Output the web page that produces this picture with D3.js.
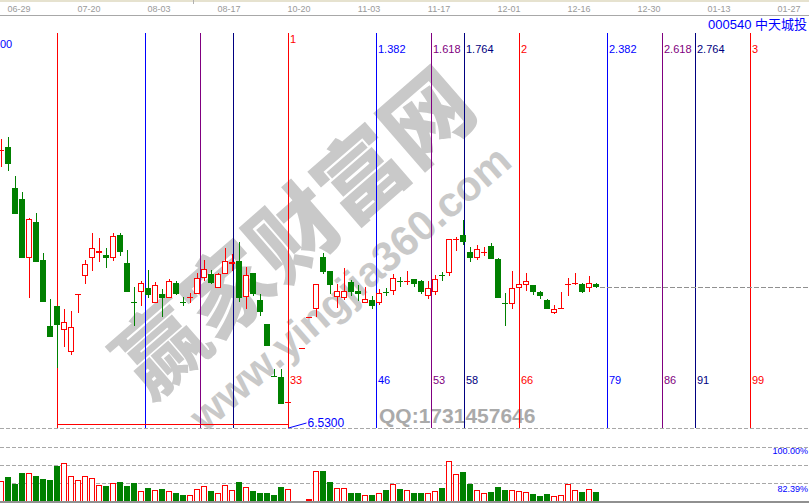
<!DOCTYPE html>
<html><head><meta charset="utf-8">
<script src="https://cdn.jsdelivr.net/npm/d3@7"></script>
<style>
html,body{margin:0;padding:0;background:#fff;overflow:hidden}
text{font-family:"Liberation Sans",Arial,sans-serif}
</style>
</head><body>
<svg id="chart" width="809" height="503"></svg>
<script>
// Daily bars; bar 0 is the swing high that anchors the Fibonacci time zones.
const barIndex = d3.range(-8, 78);
const open = [12.07,12.15,11.33,11.11,9.92,10.65,9.89,8.57,
  8.97,8.50,8.06,9.21,9.57,9.94,10.03,10.00,9.94,10.38,9.83,9.06,9.26,9.33,9.04,9.21,9.14,9.43,9.06,9.14,
  9.21,9.54,9.61,9.34,9.62,9.82,9.87,9.16,9.63,9.09,8.61,7.57,7.56,7.06,null,8.13,8.75,8.92,9.95,9.68,
  9.16,9.13,9.45,9.27,9.04,9.10,9.03,9.25,9.28,9.47,9.46,9.51,9.47,9.18,9.26,9.60,9.64,10.30,10.38,10.05,
  9.94,10.05,10.17,9.91,9.04,9.02,9.34,9.38,9.38,9.25,9.09,8.84,8.94,9.42,9.44,9.41,9.32,9.42];
const high = [12.31,12.36,11.57,11.25,10.73,10.83,10.03,9.11,
  8.97,8.92,8.87,9.22,9.90,10.43,10.32,10.14,10.44,10.44,10.10,9.36,9.46,9.69,9.45,9.31,9.52,9.48,9.16,9.24,
  9.64,9.90,9.70,9.63,10.13,10.01,10.24,9.75,9.63,9.21,8.61,7.71,7.71,7.06,null,8.13,8.75,9.42,10.04,9.68,
  9.40,9.72,9.50,9.39,9.36,9.18,9.30,9.33,9.62,9.55,9.68,9.51,9.49,9.46,9.60,9.66,10.30,10.36,10.69,10.16,
  10.20,10.16,10.22,9.94,9.23,9.68,9.42,9.63,9.38,9.28,9.12,9.00,9.25,9.54,9.64,9.44,9.57,9.44];
const low = [11.74,11.68,10.82,9.94,9.14,9.86,9.06,8.36,
  7.73,8.14,8.00,8.84,9.40,9.68,9.86,9.74,9.88,9.96,9.26,8.57,8.96,9.14,9.04,8.76,9.13,9.19,8.96,9.04,
  9.21,9.48,9.40,9.34,9.62,9.68,9.06,8.92,9.18,8.78,8.18,7.56,7.02,7.06,null,8.13,8.75,8.76,9.61,9.22,
  8.94,9.10,9.18,9.07,9.04,8.91,9.00,9.17,9.20,9.35,9.38,9.36,9.21,9.11,9.20,9.48,9.56,10.08,10.20,9.85,
  9.90,9.96,9.91,9.14,8.57,8.92,9.34,9.28,9.20,9.12,8.90,8.80,8.93,9.18,9.38,9.24,9.26,9.32];
const close = [12.08,11.80,10.82,9.94,10.71,9.86,9.06,8.36,
  8.59,8.64,8.56,9.22,9.82,10.14,10.07,9.94,10.37,10.06,9.26,9.05,9.44,9.20,9.39,9.14,9.46,9.22,9.05,9.15,
  9.54,9.71,9.43,9.61,9.88,9.86,9.14,9.60,9.22,8.86,8.18,7.56,7.02,7.06,null,8.13,8.75,9.42,9.66,9.38,
  9.28,9.28,9.26,9.22,9.11,8.98,9.24,9.24,9.54,9.46,9.47,9.42,9.26,9.34,9.52,9.56,10.30,10.31,10.26,9.92,
  10.11,10.06,9.91,9.14,9.03,9.34,9.42,9.46,9.25,9.18,8.90,8.90,8.94,9.42,9.44,9.26,9.44,9.36];
// volume, 万手
const volume = [40,48,34,56,56,50,44,42,
  70.6,75.4,49.4,41.4,49.4,45.4,31.4,30,35.4,38,30,36,19.4,26,21.4,24,19.4,16,12,11.4,
  23.4,29.4,20,15.4,31.4,21.4,38,27.4,20,16,16,12,28,23.4,null,0,4,59.4,60,38,
  25.4,25.4,16,16,11.4,12,15.4,22,33.4,24,22,16,16,16,20,26,80,54,58,34,
  22,16,18,28,22,22,20,18,14,10,14,10,12,34,22,18,24,18];

// Fibonacci time-zone ratios measured over the 33-bar base swing
const fibRatios = [0, 0.382, 0.618, 0.764, 1, 1.382, 1.618, 1.764, 2, 2.382, 2.618, 2.764, 3];
const fibBase = 33;
const fibLow = 6.53;

const dateLabels = ["06-29","07-20","08-03","08-17","10-20","11-03","11-17","12-01","12-16","12-30","01-13","01-27"];
const dateBars = [-8, 2, 12, 22, 32, 42, 52, 62, 72, 82, 92, 102];

const stockCode = "000540";
const stockName = "中天城投";
const volLabels = ["100.00%", "82.39%"];

const RED = "#ff0000", GREEN = "#008000", BLUE = "#0000ff", PURPLE = "#800080", NAVY = "#000080";

const svg = d3.select("#chart");
const W = 809, H = 503;

const x = d3.scaleLinear().domain([-8, 77]).range([1, 596]);
const y = d3.scaleLinear().domain([6.53, 14.43]).range([428, 33]);
const yv = d3.scaleLinear().domain([0, 108]).range([501, 447]);

// header strip
svg.append("rect").attr("x", 0).attr("y", 0).attr("width", W).attr("height", 2).attr("fill", "#e6e2cf");
svg.append("rect").attr("x", 193).attr("y", 0).attr("width", 1).attr("height", 4).attr("fill", "#b0b0b0");
svg.append("rect").attr("x", 0).attr("y", 15).attr("width", W).attr("height", 1).attr("fill", "#a8a8a8");
svg.append("g").selectAll("text").data(dateLabels).join("text")
  .attr("x", (d, i) => x(dateBars[i]) + 18).attr("y", 12)
  .attr("text-anchor", "middle").attr("font-size", 9).attr("fill", "#9a9a9a")
  .text(d => d);

svg.append("text").attr("x", 807).attr("y", 29).attr("text-anchor", "end")
  .attr("font-size", 13).attr("fill", BLUE)
  .style("font-family", "'Liberation Sans','Noto Sans CJK SC',sans-serif")
  .text(stockCode + " " + stockName);
svg.append("text").attr("x", 0).attr("y", 48)
  .attr("font-size", 11).attr("fill", BLUE).text("00");

// watermark
const wm = svg.append("g").attr("fill", "#c9c9c9");
wm.append("text").attr("transform", "translate(290,228) rotate(-41)")
  .attr("text-anchor", "middle").attr("dominant-baseline", "central")
  .attr("font-size", 88).attr("font-weight", 900)
  .style("font-family", "'Noto Sans CJK SC',sans-serif")
  .text("赢家财富网");
wm.append("text").attr("transform", "translate(350,288) rotate(-41)")
  .attr("text-anchor", "middle").attr("dominant-baseline", "central")
  .attr("font-size", 42).attr("font-weight", "bold")
  .text("www.yingjia360.com");
svg.append("text").attr("x", 379).attr("y", 423).attr("font-size", 21).attr("font-weight", "bold")
  .attr("fill", "#aaaaaa").text("QQ:1731457646");

// pane separators
const dash = (yy, x0, x1) => svg.append("line").attr("x1", x0).attr("x2", x1)
  .attr("y1", yy + 0.5).attr("y2", yy + 0.5).attr("stroke", "#a8a8a8")
  .attr("stroke-dasharray", "4,2").attr("shape-rendering", "crispEdges");
dash(428, 0, W);
[108, 72, 36].forEach(v => dash(Math.round(yv(v)), 0, W));

// Fibonacci time zones
const fibColor = r => {
  const f = Math.round((r % 1) * 1000);
  return f === 0 ? RED : f === 382 ? BLUE : f === 618 ? PURPLE : NAVY;
};
const fibX = r => Math.round(x(r * fibBase)) + 0.5;
const fg = svg.append("g");
fg.selectAll("line").data(fibRatios).join("line")
  .attr("x1", fibX).attr("x2", fibX).attr("y1", 33).attr("y2", 428)
  .attr("stroke", fibColor).attr("shape-rendering", "crispEdges");
fg.selectAll("text.top").data(fibRatios.filter(r => r >= 1)).join("text")
  .attr("class", "top")
  .attr("x", r => fibX(r) + 1.5).attr("y", r => r === 1 ? 43 : 53)
  .attr("font-size", 11).attr("fill", fibColor).text(r => String(r));
fg.selectAll("text.bot").data(fibRatios.filter(r => r >= 1)).join("text")
  .attr("class", "bot")
  .attr("x", r => fibX(r) + 1.5).attr("y", 384)
  .attr("font-size", 11).attr("fill", fibColor).text(r => Math.round(r * fibBase));
// base line of the swing and the low price marker
fg.append("line").attr("x1", fibX(0)).attr("x2", fibX(1)).attr("y1", 424.5).attr("y2", 424.5)
  .attr("stroke", RED).attr("shape-rendering", "crispEdges");
fg.append("line").attr("x1", fibX(1)).attr("x2", fibX(1) + 18).attr("y1", y(fibLow)).attr("y2", y(fibLow) - 5)
  .attr("stroke", BLUE);
fg.append("text").attr("x", fibX(1) + 19).attr("y", 427).attr("font-size", 12)
  .attr("fill", BLUE).text(fibLow.toFixed(4));

// candles
const bars = barIndex.map((j, i) => ({j, o: open[i], h: high[i], l: low[i], c: close[i], v: volume[i]}))
  .filter(d => d.o != null);
const cg = svg.append("g").attr("shape-rendering", "crispEdges");
bars.forEach(d => {
  const xc = Math.round(x(d.j));
  const up = d.c >= d.o;
  const col = up ? RED : GREEN;
  const yo = Math.round(y(d.o)), yc = Math.round(y(d.c));
  const yh = Math.round(y(d.h)), yl = Math.round(y(d.l));
  const top = Math.min(yo, yc), hgt = Math.abs(yo - yc);
  if (yl > yh) cg.append("rect").attr("x", xc).attr("y", yh).attr("width", 1).attr("height", yl - yh).attr("fill", col);
  if (hgt < 1) {
    cg.append("rect").attr("x", xc - 3).attr("y", top).attr("width", 6).attr("height", 1).attr("fill", col);
  } else if (up && hgt >= 3) {
    cg.append("rect").attr("x", xc - 2.5).attr("y", top + 0.5).attr("width", 5).attr("height", hgt - 1)
      .attr("fill", "#fff").attr("stroke", RED);
  } else {
    cg.append("rect").attr("x", xc - 3).attr("y", top).attr("width", 6).attr("height", hgt).attr("fill", col);
  }
});

// last close line
const lastBar = bars[bars.length - 1];
svg.append("line").attr("x1", Math.round(x(lastBar.j)) + 4).attr("x2", W)
  .attr("y1", Math.round(y(lastBar.c)) + 0.5).attr("y2", Math.round(y(lastBar.c)) + 0.5)
  .attr("stroke", "#909090").attr("stroke-dasharray", "5,2").attr("shape-rendering", "crispEdges");

// volume
const vg = svg.append("g").attr("shape-rendering", "crispEdges");
bars.forEach(d => {
  if (!d.v) return;
  const xc = Math.round(x(d.j));
  const top = Math.round(yv(d.v));
  const hgt = 501 - top;
  const up = d.c >= d.o;
  if (up && hgt >= 3) {
    vg.append("rect").attr("x", xc - 2.5).attr("y", top + 0.5).attr("width", 5).attr("height", hgt)
      .attr("fill", "#fff").attr("stroke", RED);
  } else {
    vg.append("rect").attr("x", xc - 3).attr("y", top).attr("width", 6).attr("height", hgt)
      .attr("fill", up ? RED : GREEN);
  }
});
svg.append("rect").attr("x", 0).attr("y", 501).attr("width", W).attr("height", 2).attr("fill", "#909090");
svg.append("text").attr("x", 808).attr("y", 454).attr("text-anchor", "end")
  .attr("font-size", 9).attr("fill", BLUE).text(volLabels[0]);
svg.append("text").attr("x", 808).attr("y", 492).attr("text-anchor", "end")
  .attr("font-size", 9).attr("fill", BLUE).text(volLabels[1]);
</script>
</body></html>
